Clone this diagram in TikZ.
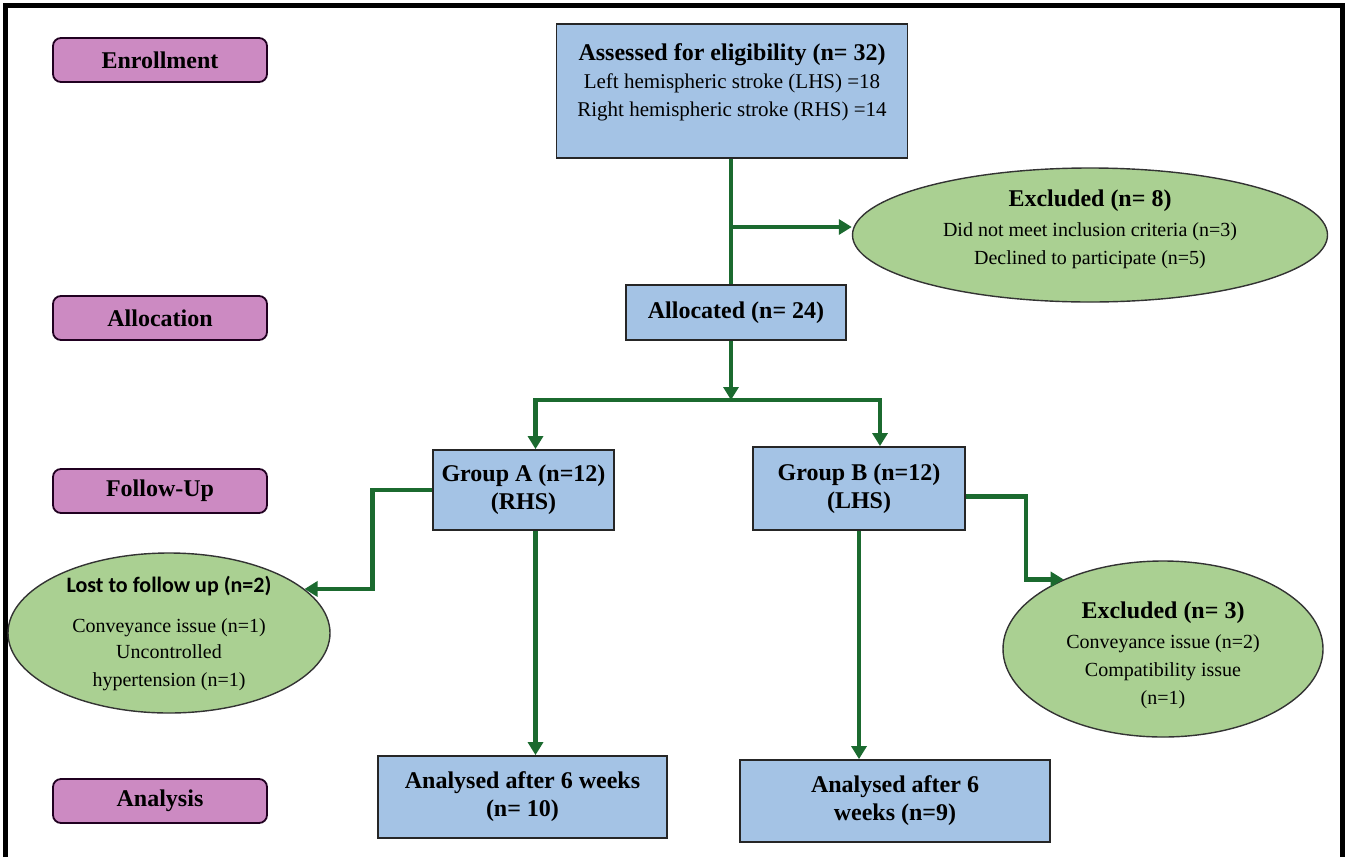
\documentclass[tikz,border=0pt]{standalone}
\usepackage{fontspec}
\setmainfont{Liberation Serif}
\newfontfamily\calibri{Carlito}
\usetikzlibrary{shapes.geometric, arrows.meta}

\definecolor{boxblue}{RGB}{164,195,229}
\definecolor{phasepink}{RGB}{204,138,194}
\definecolor{ovalgreen}{RGB}{170,208,146}
\definecolor{linegreen}{RGB}{27,106,47}

\tikzset{
	phase/.style={draw=black!75!violet, fill=phasepink, rounded corners=4pt, line width=0.9pt,
		minimum width=107pt, minimum height=22pt, font=\fontsize{12}{14}\selectfont\bfseries},
	box/.style={draw=black!85, fill=boxblue, line width=0.9pt, align=center,
		font=\fontsize{12}{14}\selectfont\bfseries},
	oval/.style={ellipse, draw=black!80, fill=ovalgreen, line width=0.7pt, align=center,
		inner sep=0pt, font=\fontsize{10}{14}\selectfont},
	flow/.style={draw=linegreen, line width=2.4pt},
	flowarrow/.style={flow, -{Triangle[length=6.5pt, width=7.5pt]}},
}

\begin{document}
\begin{tikzpicture}[x=0.5pt, y=-0.5pt]
	\useasboundingbox (0,0) rectangle (1348,857);
	% frame
	\draw[line width=2.5pt] (5,857) -- (5,5) -- (1342,5) -- (1342,857);

	% phases
	\foreach \y/\t in {60/Enrollment, 318/Allocation, 491/Follow-Up, 801/Analysis}
		\node[phase] (ph\y) at (160,\y) {\t};

	% boxes
	\node[box, minimum width=175.5pt, minimum height=67pt] (assess) at (732,91)
		{Assessed for eligibility (n= 32)\\
		{\mdseries\fontsize{10.5}{14}\selectfont Left hemispheric stroke (LHS) =18}\\
		{\mdseries\fontsize{10.5}{14}\selectfont Right hemispheric stroke (RHS) =14}\\[-3pt]\mbox{}};
	\node[box, minimum width=110pt, minimum height=27.5pt] (alloc) at (736,312.5) {Allocated (n= 24)};
	\node[box, minimum width=90.5pt, minimum height=40pt] (grpA) at (523.5,490) {Group A (n=12)\\(RHS)};
	\node[box, minimum width=106pt, minimum height=41.5pt] (grpB) at (859,488.5) {Group B (n=12)\\(LHS)};
	\node[box, minimum width=144.5pt, minimum height=41pt] (anaA) at (522.5,797) {Analysed after 6 weeks\\(n= 10)};
	\node[box, minimum width=155pt, minimum height=41pt] (anaB) at (895,801) {Analysed after 6\\weeks (n=9)};

	% ovals
	\node[oval, minimum width=237.5pt, minimum height=67pt] (excl1) at (1090,235)
		{{\bfseries\fontsize{12}{14}\selectfont Excluded (n= 8)}\\[1pt]
		Did not meet inclusion criteria (n=3)\\
		Declined to participate (n=5)\\[-6pt]\mbox{}};
	\node[oval, minimum width=161pt, minimum height=80pt, inner sep=-1pt] (lost) at (169,633)
		{{\calibri\bfseries\fontsize{11}{14}\selectfont Lost to follow up (n=2)}\\[6pt]
		Conveyance issue (n=1)\\[-1pt]
		Uncontrolled\\
		hypertension (n=1)};
	\node[oval, minimum width=160pt, minimum height=88pt] (excl3) at (1163,649)
		{\mbox{}\\[1pt]{\bfseries\fontsize{12}{14}\selectfont Excluded (n= 3)}\\[1pt]
		Conveyance issue (n=2)\\
		Compatibility issue\\
		(n=1)};

	% connectors
	\coordinate (br1) at (731,227);
	\coordinate (split) at (731,400);
	\draw[flow] ([xshift=-0.5pt]assess.south) -- ([xshift=-0.5pt]assess.south |- alloc.north);
	\draw[flowarrow] (br1) -- (br1 -| excl1.west);
	\draw[flowarrow] (alloc.south -| split) -- (split);
	\draw[flowarrow] (split) -| ([xshift=6pt]grpA.north);
	\draw[flowarrow] (split) -| ([xshift=10.5pt]grpB.north);
	\draw[flowarrow] (grpA.west) -- ++(-60,0) |- (lost.18);
	\draw[flowarrow] ([yshift=-4pt]grpB.east) -- ++(60,0) |- (excl3.145);
	\draw[flowarrow] ([xshift=6pt]grpA.south) -- ([xshift=6pt]grpA.south |- anaA.north);
	\draw[flowarrow] (grpB.south) -- (grpB.south |- anaB.north);
\end{tikzpicture}
\end{document}
